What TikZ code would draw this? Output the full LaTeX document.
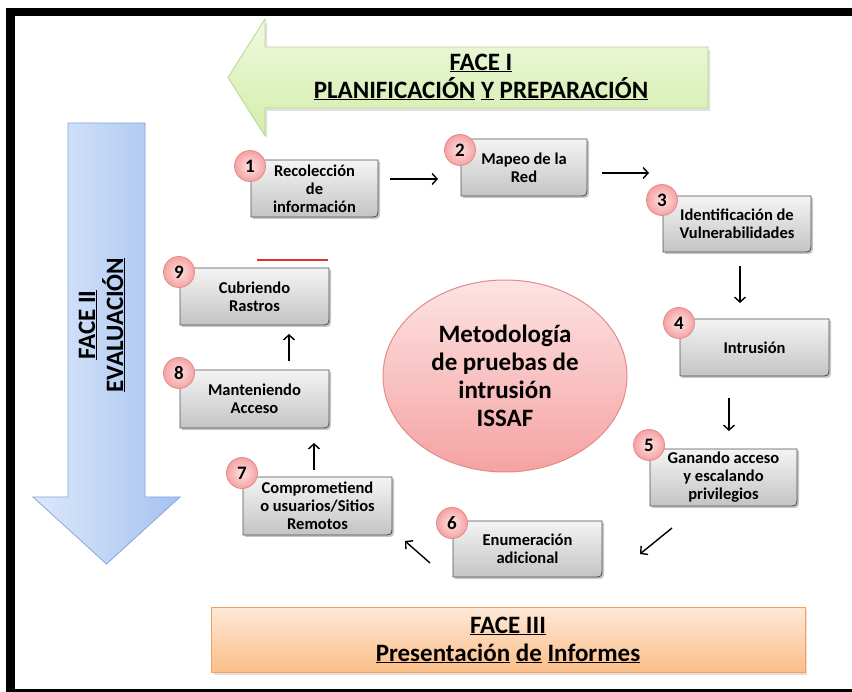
\documentclass[tikz,border=0pt]{standalone}
\usepackage{fontspec}
\setmainfont{Carlito}
\usetikzlibrary{arrows.meta,shapes.geometric}

\definecolor{grnA}{HTML}{F0F9E0}
\definecolor{grnB}{HTML}{D3EDAA}
\definecolor{grnE}{HTML}{B5D88E}
\definecolor{bluA}{HTML}{DCE8FA}
\definecolor{bluB}{HTML}{A5C2F1}
\definecolor{bluE}{HTML}{86A7DA}
\definecolor{orgA}{HTML}{FDE9D8}
\definecolor{orgB}{HTML}{FBBE88}
\definecolor{orgE}{HTML}{F1A263}
\definecolor{pnkA}{HTML}{FDE3E3}
\definecolor{pnkB}{HTML}{F5A2A2}
\definecolor{pnkE}{HTML}{E38A8A}
\definecolor{gryA}{HTML}{F4F4F4}
\definecolor{gryB}{HTML}{C4C4C4}
\definecolor{gryE}{HTML}{505050}
\definecolor{redline}{HTML}{E0302E}

\tikzset{
  boxfill/.style={top color=gryA, bottom color=gryB, draw=gryE, line width=0.9},
  boxshade/.style={fill=black, opacity=0.22},
  steptext/.style={align=center, font=\fontsize{16.5}{18}\selectfont\bfseries, inner sep=0},
  numdot/.style={circle, minimum size=31, inner sep=0, inner color=pnkA, outer color=pnkB,
                 draw=pnkE, line width=0.8, font=\fontsize{19}{19}\selectfont\bfseries},
  flow/.style={line width=1.4, -{Straight Barb[length=5,width=11]}},
  phasetext/.style={align=center, font=\fontsize{25}{28}\selectfont\bfseries, inner sep=0},
}

% one numbered step: name, x1, y1, x2, y2, badge offset, number, text
\newcommand\stepcard[8]{%
  \fill[boxshade] (#2+2,#3+2) -- (#4+2,#3+2) -- (#4+2,#5+2-9) .. controls (#4+2,#5+2) .. (#4+2-9,#5+2) -- (#2+2,#5+2) -- cycle;
  \shade[boxfill] (#2,#3) -- (#4,#3) -- (#4,#5-9) .. controls (#4,#5) .. (#4-9,#5) -- (#2,#5) -- cycle;
  \node[steptext] (#1) at ({(#2+#4)/2},{(#3+#5)/2}) {#8};
  \node[numdot] (#1n) at (#2-1,#3+#6) {#7};
}

\begin{document}
\begin{tikzpicture}[x=1pt,y=-1pt]
\useasboundingbox (0,0) rectangle (852,692);
\fill[white] (0,0) rectangle (852,692);

% outer frame
\fill[black] (6,8) rectangle (852,16);
\fill[black] (6,8) rectangle (15,692);
\fill[black] (6,689) rectangle (852,692);

% phase I arrow (left)
\fill[black, opacity=0.12] (710,50) -- (267,50) -- (267,22) -- (231,80) -- (267,138) -- (267,111) -- (710,111) -- cycle;
\shade[top color=grnA, bottom color=grnB, draw=grnE, line width=0.8]
  (708,47) -- (265,47) -- (265,19) -- (228,77.5) -- (265,136) -- (265,108) -- (708,108) -- cycle;
\node[phasetext] (face1) at (481,77) {\underline{FACE I}\\\underline{PLANIFICACIÓN} \underline{Y} \underline{PREPARACIÓN}};

% phase II arrow (down)
\shade[left color=bluA, right color=bluB, draw=bluE, line width=0.8]
  (68,123) -- (145,123) -- (145,497) -- (180,497) -- (106.5,564) -- (33,497) -- (68,497) -- cycle;
\node[phasetext, rotate=90] (face2) at (102,325) {\underline{FACE II}\\\underline{EVALUACIÓN}};

% phase III bar
\fill[black, opacity=0.12] (214,610) rectangle (807,675);
\shade[top color=orgA, bottom color=orgB, draw=orgE, line width=0.8] (211,607) rectangle (805,672);
\node[phasetext] (face3) at (508,640) {\underline{FACE III}\\\underline{Presentación} \underline{de} \underline{Informes}};

% central ellipse
\node[ellipse, minimum width=244, minimum height=192, top color=pnkA, bottom color=pnkB,
      draw=pnkE, line width=1, align=center, inner sep=0,
      font=\fontsize{25}{28}\selectfont\bfseries] (core) at (505,376)
  {Metodología\\de pruebas de\\intrusión\\ISSAF};

% the nine steps
\stepcard{s1}{251}{160}{378}{217}{6}{1}{Recolección\\de\\información}
\stepcard{s2}{461}{139}{587}{196}{11}{2}{Mapeo de la\\Red}
\stepcard{s3}{663}{196}{811}{252}{4}{3}{Identificación de\\Vulnerabilidades}
\stepcard{s4}{680}{319}{829}{376}{4}{4}{Intrusión}
\stepcard{s5}{650}{449}{797}{506}{-4}{5}{Ganando acceso\\y escalando\\privilegios}
\stepcard{s6}{453}{521}{602}{577}{2}{6}{Enumeración\\adicional}
\stepcard{s7}{243}{477}{392}{535}{-4}{7}{Comprometiend\\o usuarios/Sitios\\Remotos}
\stepcard{s8}{180}{370}{329}{428}{3}{8}{Manteniendo\\Acceso}
\stepcard{s9}{180}{268}{329}{325}{4}{9}{Cubriendo\\Rastros}

% stray red stroke above step 9
\draw[redline, line width=1.8] (257,260) -- (328,260);

% connectors between steps
\coordinate (c1a) at (390,179); \coordinate (c1b) at (438,179);
\coordinate (c2a) at (602,173); \coordinate (c2b) at (649,173);
\coordinate (c3a) at (740,266); \coordinate (c3b) at (740,303);
\coordinate (c4a) at (729,398); \coordinate (c4b) at (729,431);
\coordinate (c5a) at (672,528); \coordinate (c5b) at (640,554);
\coordinate (c6a) at (430,563); \coordinate (c6b) at (405,541);
\coordinate (c7a) at (314,470); \coordinate (c7b) at (314,443);
\coordinate (c8a) at (289,361); \coordinate (c8b) at (289,334);
\draw[flow] (c1a) -- (c1b);
\draw[flow] (c2a) -- (c2b);
\draw[flow] (c3a) -- (c3b);
\draw[flow] (c4a) -- (c4b);
\draw[flow] (c5a) -- (c5b);
\draw[flow] (c6a) -- (c6b);
\draw[flow] (c7a) -- (c7b);
\draw[flow] (c8a) -- (c8b);
\end{tikzpicture}
\end{document}
